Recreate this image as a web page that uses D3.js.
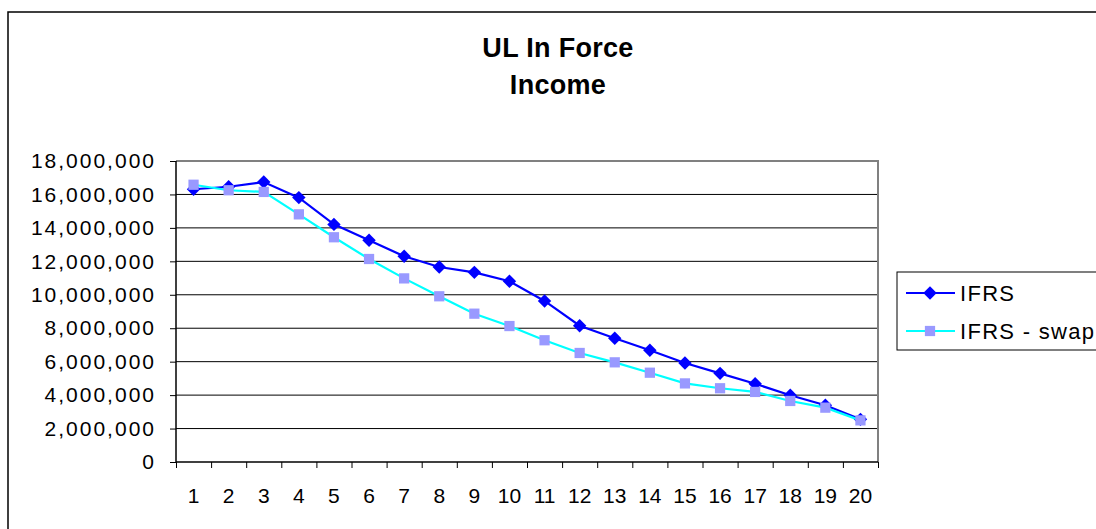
<!DOCTYPE html>
<html>
<head>
<meta charset="utf-8">
<script src="https://cdn.jsdelivr.net/npm/d3@7/dist/d3.min.js"></script>
<style>
    html, body {margin: 0; padding: 0; background: #fff; overflow: hidden;}
    svg {display: block; font-family: "Liberation Sans", Arial, sans-serif;}
</style>
</head>
<body>
<div id="chart"></div>
<script>
// values
let years = d3.range(1, 21).map(String);
let ifrs = [16310000, 16460000, 16740000, 15810000, 14210000, 13260000, 12300000, 11660000, 11340000, 10810000,
    9630000, 8150000, 7400000, 6680000, 5920000, 5300000, 4680000, 3990000, 3390000, 2550000];
let ifrsSwap = [16580000, 16250000, 16150000, 14810000, 13440000, 12140000, 10980000, 9910000, 8870000, 8130000,
    7280000, 6520000, 5960000, 5340000, 4700000, 4410000, 4190000, 3650000, 3250000, 2490000];
let yTicks = d3.range(0, 18000001, 2000000);
let titleLines = ['UL In Force', 'Income'];
let seriesNames = ['IFRS', 'IFRS - swap'];

let width = 1096, height = 529;
let plot = {left: 176, right: 878, top: 161, bottom: 462};
let labelFont = '"Liberation Sans", Arial, sans-serif';

let $svg = d3.select('#chart').append('svg')
    .attr('width', width)
    .attr('height', height);

// chart frame (runs off the right and bottom edge)
$svg.append('rect')
    .attr('x', 8).attr('y', 12)
    .attr('width', 1200).attr('height', 600)
    .attr('fill', '#fff')
    .attr('stroke', '#000')
    .attr('stroke-width', 1.5);

// title
$svg.append('text')
    .attr('text-anchor', 'middle')
    .attr('font-size', 27)
    .attr('font-weight', 'bold')
    .attr('letter-spacing', '0.3px')
    .selectAll('tspan')
    .data(titleLines)
    .join('tspan')
    .attr('x', 558)
    .attr('y', (d, i) => 57 + i * 37)
    .text(d => d);

let x = d3.scaleBand().domain(years).range([plot.left, plot.right]).padding(0);
let xEdge = d3.scaleLinear().domain([0, years.length]).range([plot.left, plot.right]);
let y = d3.scaleLinear().domain([0, 18000000]).range([plot.bottom, plot.top]);
let cx = d => x(d) + x.bandwidth() / 2;

// gridlines
$svg.append('g')
    .selectAll('line')
    .data(yTicks.slice(1))
    .join('line')
    .attr('x1', plot.left).attr('x2', plot.right)
    .attr('y1', d => y(d)).attr('y2', d => y(d))
    .attr('stroke', '#000')
    .attr('stroke-width', 1);

// grey plot border top/right
$svg.append('path')
    .attr('d', `M${plot.left},${plot.top}H${plot.right}V${plot.bottom}`)
    .attr('fill', 'none')
    .attr('stroke', '#808080')
    .attr('stroke-width', 2);

// y axis
let $yAxis = $svg.append('g')
    .attr('transform', `translate(${plot.left},0)`)
    .call(d3.axisLeft(y).tickValues(yTicks).tickFormat(d3.format(',')).tickSize(6).tickPadding(14));
$yAxis.select('.domain').attr('stroke', '#000').attr('stroke-width', 1.5).attr('d', `M0,${plot.top}V${plot.bottom}`);
$yAxis.selectAll('.tick line').attr('stroke', '#000');
$yAxis.selectAll('text')
    .attr('font-size', 21)
    .attr('letter-spacing', '2px')
    .attr('fill', '#000')
    .style('font-family', labelFont);

// x axis: boundary ticks
let $xTicks = $svg.append('g')
    .attr('transform', `translate(0,${plot.bottom})`)
    .call(d3.axisBottom(xEdge).tickValues(d3.range(0, years.length + 1)).tickFormat('').tickSize(6));
$xTicks.select('.domain').attr('stroke', '#000').attr('stroke-width', 1.5).attr('d', `M${plot.left},0H${plot.right}`);
$xTicks.selectAll('.tick line').attr('stroke', '#000');

// x axis: category labels
let $xAxis = $svg.append('g')
    .attr('transform', `translate(0,${plot.bottom})`)
    .call(d3.axisBottom(x).tickSize(0).tickPadding(26));
$xAxis.select('.domain').remove();
$xAxis.selectAll('text')
    .attr('font-size', 21)
    .attr('fill', '#000')
    .style('font-family', labelFont);

// series
let diamond = d3.symbol().type(d3.symbolSquare).size(90);
let square = d3.symbol().type(d3.symbolSquare).size(105);
let series = [
    {name: seriesNames[0], values: ifrs, line: '#0000ff', marker: '#0000ff', symbol: diamond, rotate: 45},
    {name: seriesNames[1], values: ifrsSwap, line: '#00ffff', marker: '#9999ff', symbol: square, rotate: 0}
];
let line = d3.line().x(d => cx(d.year)).y(d => y(d.value));

series.forEach(s => {
    let pts = years.map((yr, i) => ({year: yr, value: s.values[i]}));
    let $g = $svg.append('g');
    $g.append('path')
        .attr('d', line(pts))
        .attr('fill', 'none')
        .attr('stroke', s.line)
        .attr('stroke-width', 2.2);
    $g.selectAll('path.marker')
        .data(pts)
        .join('path')
        .attr('class', 'marker')
        .attr('transform', d => `translate(${cx(d.year)},${y(d.value)}) rotate(${s.rotate})`)
        .attr('d', s.symbol())
        .attr('fill', s.marker);
});

// legend
let $legend = $svg.append('g');
$legend.append('rect')
    .attr('x', 897).attr('y', 272)
    .attr('width', 300).attr('height', 78)
    .attr('fill', '#fff')
    .attr('stroke', '#000')
    .attr('stroke-width', 1);
let $items = $legend.selectAll('g.item')
    .data(series)
    .join('g')
    .attr('class', 'item')
    .attr('transform', (d, i) => `translate(0,${293 + i * 38})`);
$items.append('line')
    .attr('x1', 906).attr('x2', 955)
    .attr('stroke', d => d.line)
    .attr('stroke-width', 2);
$items.append('path')
    .attr('transform', d => `translate(930,0) rotate(${d.rotate})`)
    .attr('d', d => d.symbol())
    .attr('fill', d => d.marker);
$items.append('text')
    .attr('x', 960)
    .attr('dy', '0.36em')
    .attr('font-size', 22)
    .attr('letter-spacing', '1.3px')
    .text(d => d.name);
</script>
</body>
</html>
